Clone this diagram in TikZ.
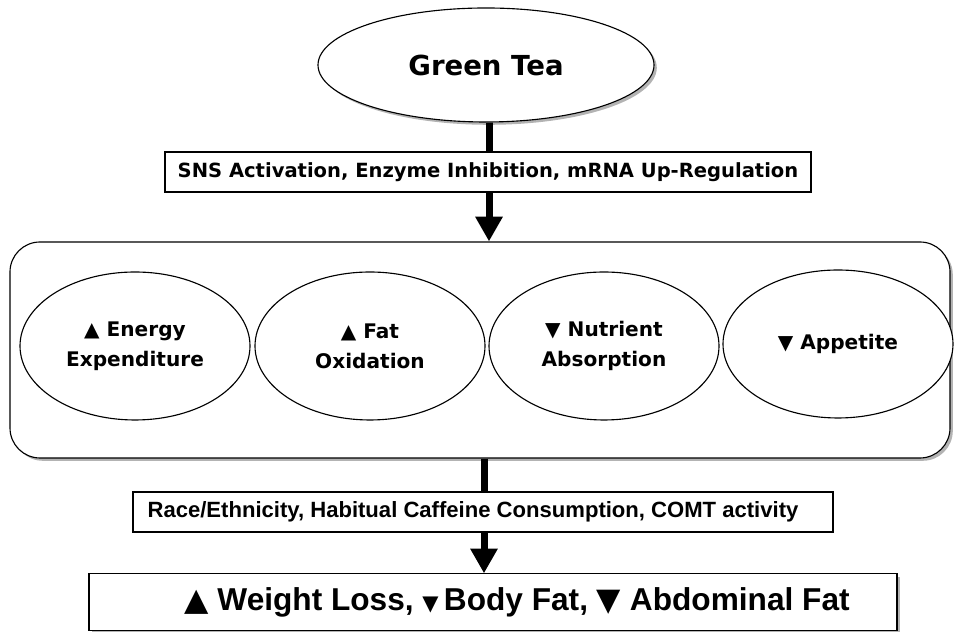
\documentclass[tikz,border=0pt]{standalone}
\usepackage{fontspec}
\usepackage{tikz}
\usetikzlibrary{shapes.geometric,shadows,arrows.meta}
\setmainfont{DejaVu Sans}
\newfontfamily\narrowsans{Liberation Sans}
\newfontfamily\trifont{DejaVu Sans}
\newcommand{\uptri}{{\trifont ▲}}
\newcommand{\dntri}{{\trifont ▼}}

\begin{document}
\begin{tikzpicture}[line width=0.8pt,
  shadowed/.style={drop shadow={shadow xshift=0.07cm,shadow yshift=-0.07cm,opacity=0.6}},
  effect/.style={shape=ellipse,draw,fill=white,minimum width=5.75cm,minimum height=3.7cm,
    align=center,font=\bfseries\fontsize{14.3}{21.3}\selectfont},
  mech/.style={draw,fill=white,minimum height=1cm,inner sep=0pt},
  thick line/.style={line width=0.175cm},
  big arrow/.style={line width=0.175cm,-{Triangle[width=0.65cm,length=0.62cm]}}]
\useasboundingbox (0,0) rectangle (23.9,15.8);
%[inner sep=1mm]
\path (12.15,14.175) node (tea) [shape=ellipse,draw,fill=white,shadowed,minimum width=8.4cm,minimum height=2.85cm,font=\bfseries\fontsize{19.6}{23}\selectfont] {Green Tea};
\path (12.2,11.5) node (sns) [mech,minimum width=16.15cm,font=\bfseries\fontsize{13.9}{16}\selectfont] {SNS Activation, Enzyme Inhibition, mRNA Up-Regulation};
\path (12.0,7.05) node (effects) [draw,fill=white,shadowed,rounded corners=0.75cm,minimum width=23.5cm,minimum height=5.4cm] {};
\path (3.375,7.15) node (ee) [effect] {\uptri{} Energy\\Expenditure};
\path (9.25,7.15) node (fo) [effect] {\uptri{} Fat\\Oxidation};
\path (15.1,7.15) node (na) [effect] {\dntri{} Nutrient\\Absorption};
\path (20.95,7.2) node (app) [effect] {\dntri{} Appetite};
\path (12.075,3.0) node (mods) [mech,minimum width=17.5cm,font=\narrowsans\bfseries\fontsize{15.7}{18}\selectfont] {Race/Ethnicity, Habitual Caffeine Consumption, COMT activity\hspace*{0.5cm}};
\path (12.325,0.74) node (outcome) [draw,fill=white,shadowed,minimum width=20.2cm,minimum height=1.425cm,font=\narrowsans\bfseries\fontsize{22.5}{25}\selectfont] {\hspace*{1.2cm}\uptri{} Weight Loss, {\fontsize{15}{16}\selectfont\dntri}\,Body Fat, \dntri{} Abdominal Fat};

\draw [thick line] (sns.north -| 12.225,0) to (tea.south -| 12.225,0);
\draw [big arrow] (sns.south -| 12.225,0) to (effects.north -| 12.225,0);
\draw [thick line] (effects.south -| 12.1,0) to (mods.north -| 12.1,0);
\draw [big arrow] (mods.south -| 12.1,0) to (outcome.north -| 12.1,0);
\end{tikzpicture}
\end{document}
